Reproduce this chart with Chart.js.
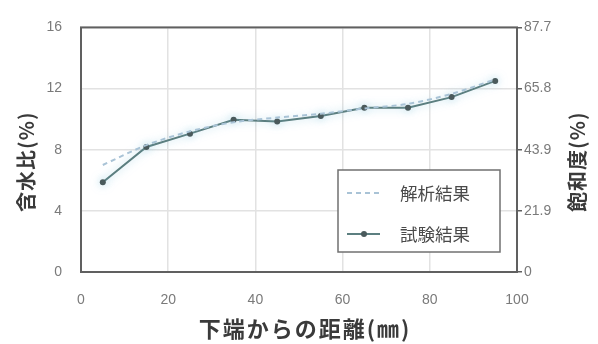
<!DOCTYPE html>
<html>
<head>
<meta charset="utf-8">
<script src="https://cdn.jsdelivr.net/npm/chart.js@4/dist/chart.umd.min.js"></script>
<style>
  html, body { margin: 0; padding: 0; background: #fff; }
  #wrap { width: 598px; height: 344px; }
</style>
</head>
<body>
<div id="wrap"><canvas id="c" width="598" height="344"></canvas></div>
<script>
// Distance from the lower end (mm)
const distances = [5, 15, 25, 35, 45, 55, 65, 75, 85, 95];
// Water content (%) — analysis and test
const analysisWater = [7.0, 8.3, 9.2, 9.8, 10.1, 10.35, 10.7, 11.0, 11.65, 12.6];
const testWater = [5.87, 8.18, 9.05, 9.96, 9.85, 10.2, 10.75, 10.75, 11.44, 12.5];
// Axis ticks
const xTicks = [0, 20, 40, 60, 80, 100];
const waterTicks = [0, 4, 8, 12, 16];
const saturationMax = 87.7;
const saturationTickLabels = ['0', '21.9', '43.9', '65.8', '87.7'];
const seriesNames = ['解析結果', '試験結果'];

const tickFont = { family: 'Liberation Sans, Arial, sans-serif', size: 14 };
const tickColor = '#7a7a7a';
const cjkFont = '"Noto Sans CJK JP", sans-serif';

const toPts = vals => vals.map((v, i) => ({ x: distances[i], y: v }));

// Soft halo under the measured line
const glowPlugin = {
  id: 'glow',
  beforeDatasetDraw(chart, args) {
    if (args.index === 1) {
      chart.ctx.save();
      chart.ctx.shadowColor = 'rgba(120,190,215,0.6)';
      chart.ctx.shadowBlur = 8;
    }
  },
  afterDatasetDraw(chart, args) {
    if (args.index === 1) chart.ctx.restore();
  }
};

// Frame, axis titles and the boxed legend
const decorPlugin = {
  id: 'decor',
  afterDraw(chart) {
    const { ctx, chartArea: a } = chart;
    ctx.save();
    ctx.strokeStyle = '#606060';
    ctx.lineWidth = 2;
    ctx.strokeRect(a.left, a.top, a.right - a.left, a.bottom - a.top);

    // axis titles
    ctx.fillStyle = '#3a3a3a';
    ctx.font = 'bold 20px ' + cjkFont;
    ctx.textAlign = 'center';
    ctx.textBaseline = 'middle';
    ctx.letterSpacing = '1px';
    const midY = (a.top + a.bottom) / 2 + 12;
    ctx.save();
    ctx.translate(26, midY);
    ctx.rotate(-Math.PI / 2);
    ctx.fillText('含水比(%)', 0, 0);
    ctx.restore();
    ctx.save();
    ctx.translate(577, midY);
    ctx.rotate(-Math.PI / 2);
    ctx.fillText('飽和度(%)', 0, 0);
    ctx.restore();
    ctx.font = 'bold 22px ' + cjkFont;
    ctx.letterSpacing = '2px';
    ctx.fillText('下端からの距離(㎜)', 305, 329);
    ctx.letterSpacing = '0px';

    // legend
    const lx = 338, ly = 170, lw = 162, lh = 82;
    ctx.fillStyle = '#fff';
    ctx.fillRect(lx, ly, lw, lh);
    ctx.strokeStyle = '#707070';
    ctx.lineWidth = 1.5;
    ctx.strokeRect(lx, ly, lw, lh);
    const ds = chart.data.datasets;
    const rows = [193, 234];
    rows.forEach((ry, i) => {
      const d = ds[i];
      ctx.save();
      ctx.strokeStyle = d.borderColor;
      ctx.lineWidth = d.borderWidth;
      ctx.setLineDash(d.borderDash || []);
      ctx.beginPath();
      ctx.moveTo(347, ry);
      ctx.lineTo(380, ry);
      ctx.stroke();
      ctx.restore();
      if (d.pointRadius) {
        ctx.fillStyle = d.pointBackgroundColor;
        ctx.beginPath();
        ctx.arc(364, ry, d.pointRadius, 0, Math.PI * 2);
        ctx.fill();
      }
      ctx.fillStyle = '#4a4a4a';
      ctx.font = '17.5px ' + cjkFont;
      ctx.textAlign = 'left';
      ctx.fillText(d.label, 400, ry);
    });
    ctx.restore();
  }
};

new Chart(document.getElementById('c'), {
  type: 'line',
  data: {
    datasets: [
      {
        label: seriesNames[0],
        data: toPts(analysisWater),
        borderColor: '#a9c3d6',
        borderWidth: 2,
        borderDash: [5, 4],
        pointRadius: 0,
        tension: 0.3,
        yAxisID: 'y'
      },
      {
        label: seriesNames[1],
        data: toPts(testWater),
        borderColor: '#5c7f80',
        borderWidth: 2,
        pointRadius: 3,
        pointBackgroundColor: '#4a5a5c',
        pointBorderWidth: 0,
        tension: 0,
        yAxisID: 'y'
      }
    ]
  },
  options: {
    responsive: false,
    animation: false,
    layout: { padding: { top: 15, left: 0, right: 0, bottom: 0 } },
    plugins: { legend: { display: false }, tooltip: { enabled: false } },
    scales: {
      x: {
        type: 'linear',
        min: 0, max: 100,
        afterFit: s => { s.height = 72; },
        afterBuildTicks: s => { s.ticks = xTicks.map(v => ({ value: v })); },
        grid: { color: '#e2e2e2', lineWidth: 1.5, drawTicks: false },
        border: { display: false },
        ticks: { font: tickFont, color: tickColor, padding: 20, maxRotation: 0 }
      },
      y: {
        position: 'left',
        min: 0, max: 16,
        afterFit: s => { s.width = 81; },
        afterBuildTicks: s => { s.ticks = waterTicks.map(v => ({ value: v })); },
        grid: { color: '#e2e2e2', lineWidth: 1.5, drawTicks: false },
        border: { display: false },
        ticks: { font: tickFont, color: tickColor, padding: 19 }
      },
      y2: {
        position: 'right',
        min: 0, max: saturationMax,
        afterFit: s => { s.width = 81; },
        afterBuildTicks: s => {
          s.ticks = saturationTickLabels.map((t, i) => ({ value: saturationMax * i / (saturationTickLabels.length - 1) }));
        },
        grid: { drawOnChartArea: false, drawTicks: true, tickLength: 5, tickColor: '#606060', lineWidth: 1.5 },
        border: { display: false },
        ticks: {
          font: tickFont, color: tickColor, padding: 2,
          callback: (v, i) => saturationTickLabels[i]
        }
      }
    }
  },
  plugins: [glowPlugin, decorPlugin]
});
</script>
</body>
</html>
